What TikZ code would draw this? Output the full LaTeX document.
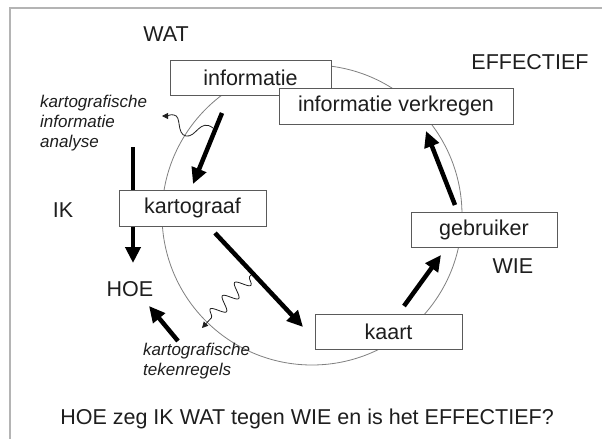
\documentclass[tikz,border=0pt]{standalone}
\usepackage{fontspec}
\setmainfont{Liberation Sans}
\usetikzlibrary{arrows.meta,decorations.pathmorphing}

\definecolor{framegray}{HTML}{B4B4B4}
\definecolor{boxgray}{HTML}{5A5A5A}
\definecolor{ringgray}{HTML}{808080}
\definecolor{inkgray}{HTML}{1E1E1E}

\newcommand{\mainsize}{\fontsize{21.5}{25}\selectfont}
\newcommand{\notesize}{\fontsize{17}{20}\selectfont\itshape}

\tikzset{
  stagebox/.style={draw=boxgray, fill=white, line width=0.9pt, inner sep=0pt,
    minimum height=35pt, text=inkgray, font=\mainsize},
  label/.style={inner sep=0pt, text=inkgray, font=\mainsize},
  note/.style={inner sep=0pt, text=inkgray, font=\notesize, align=left},
  flow/.style={line width=4.5pt, draw=black, -{Triangle[length=16pt,width=15pt]}},
  wave/.style={line width=0.8pt, draw=inkgray, -{Triangle[length=6pt,width=6pt]}}
}

\begin{document}
\begin{tikzpicture}[x=1pt,y=-1pt]
  \useasboundingbox (0,0) rectangle (602,439);
  \fill[white] (0,0) rectangle (602,439);

  % frame
  \draw[framegray, line width=1.2pt] (602,8) -- (10,8) -- (10,439);

  % cycle ring
  \draw[ringgray, line width=0.8pt] (312,215) circle[radius=150];

  % arrow from the analysis side down to HOE (passes behind the kartograaf box)
  \coordinate (ikTop) at (133,147);
  \coordinate (ikEnd) at (133,263);
  \draw[flow] (ikTop) -- (ikEnd);

  % stage boxes
  \node[stagebox, minimum width=161pt] (info) at (250.5,77.5) {informatie};
  \node[stagebox, minimum width=234pt, minimum height=36pt] (verkregen) at (396,106) {informatie verkregen};
  \node[stagebox, minimum width=147pt, minimum height=36pt] (karto) at (192.5,208) {kartograaf};
  \node[stagebox, minimum width=146pt] (gebr) at (484,229.5) {gebruiker};
  \node[stagebox, minimum width=147pt] (kaart) at (388.5,331.5) {kaart};

  % labels
  \node[label] (wat) at (166,34) {WAT};
  \node[label] (eff) at (530,62) {EFFECTIEF};
  \node[label] (ik) at (63,210) {IK};
  \node[label] (hoe) at (130,289) {HOE};
  \node[label] (wie) at (513,266) {WIE};
  \node[note, anchor=north west] (analyse) at (40,95) {kartografische\\informatie\\analyse};
  \node[note, anchor=north west] (regels) at (143,343) {kartografische\\tekenregels};
  \node[label] (vraag) at (307,419) {HOE zeg IK WAT tegen WIE en is het EFFECTIEF?};

  % cycle arrows
  \coordinate (a1s) at (222,113);  \coordinate (a1e) at (193,184);
  \coordinate (a2s) at (215,233);  \coordinate (a2e) at (303,327);
  \coordinate (a3s) at (404,306);  \coordinate (a3e) at (441,255);
  \coordinate (a4s) at (455,205);  \coordinate (a4e) at (426,131);
  \coordinate (a5s) at (178,341);  \coordinate (a5e) at (149,306);
  \draw[flow] (a1s) -- (a1e);
  \draw[flow] (a2s) -- (a2e);
  \draw[flow] (a3s) -- (a3e);
  \draw[flow] (a4s) -- (a4e);
  \draw[flow] (a5s) -- (a5e);

  % wavy hints
  \coordinate (w1s) at (213,128);
  \coordinate (w1e) at (162,116);
  \draw[wave] (w1s) .. controls (200,118) and (196,138) .. (186,136)
     .. controls (176,134) and (182,116) .. (174,115)
     .. controls (170,114) and (168,116) .. (w1e);
  \coordinate (w2s) at (251,275);
  \coordinate (w2e) at (202,328);
  \draw[wave, decoration={snake, amplitude=7pt, segment length=18pt, pre length=2pt, post length=8pt},
        decorate] (w2s) -- (w2e);
\end{tikzpicture}
\end{document}
